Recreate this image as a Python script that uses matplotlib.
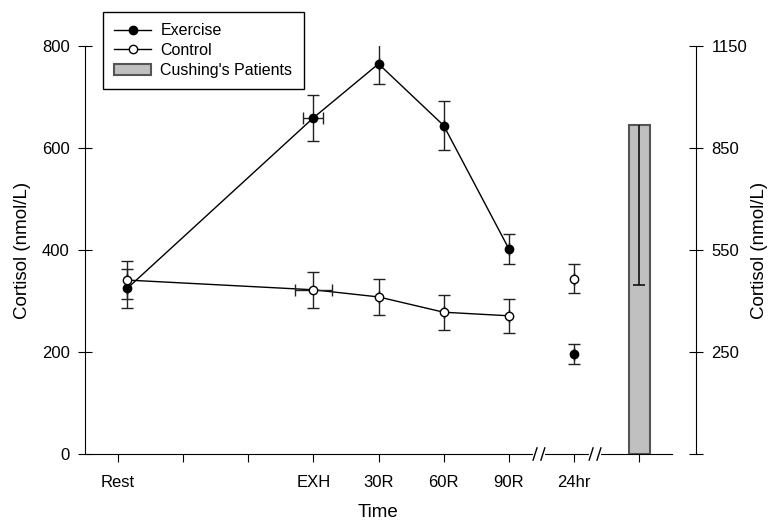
import matplotlib
matplotlib.use("Agg")
import matplotlib.pyplot as plt
from matplotlib.patches import Patch
from matplotlib.lines import Line2D

plt.rcParams['font.family'] = ['Liberation Sans', 'DejaVu Sans']

# time points (Rest is drawn a little right of its tick, as in the original)
time_labels = ["Rest", "EXH", "30R", "60R", "90R", "24hr"]
time_x = [0.15, 3, 4, 5, 6, 7]

exercise = [325, 659, 765, 644, 402, 196]
exercise_err = [38, 45, 39, 48, 30, 20]
exercise_xerr = [0, 0.15, 0, 0, 0, 0]

control = [341, 322, 308, 278, 271, 344]
control_err = [38, 35, 36, 34, 33, 28]
control_xerr = [0, 0.28, 0, 0, 0, 0]

# Cushing's patients, on the right-hand axis
cushing_x = 8
cushing_mean = 918
cushing_err_low = 471

fig = plt.figure(figsize=(7.71, 5.2), dpi=100)
ax = fig.add_axes([85 / 771, 1 - 454 / 520, 587 / 771, 408 / 520])
ax2 = ax.twinx()

# lines through the first five points only
ax.plot(time_x[:5], exercise[:5], color='black', lw=1, zorder=2)
ax.plot(time_x[:5], control[:5], color='black', lw=1, zorder=2)

ax.errorbar(time_x, exercise, yerr=exercise_err, xerr=exercise_xerr, fmt='none',
            ecolor='#222222', elinewidth=1, capsize=4.3, capthick=1, zorder=3)
ax.errorbar(time_x, control, yerr=control_err, xerr=control_xerr, fmt='none',
            ecolor='#222222', elinewidth=1, capsize=4.3, capthick=1, zorder=3)
ax.plot(time_x, exercise, 'o', color='black', ms=6, zorder=4)
ax.plot(time_x, control, 'o', mfc='white', mec='black', mew=1, ms=6, zorder=4)

ax.set_xlim(-0.5, 8.5)
ax.set_ylim(0, 800)
ax.set_yticks([0, 200, 400, 600, 800])
ax.set_xticks(range(9))
tick_names = [''] * 9
for lbl, xv in zip(time_labels, [0, 3, 4, 5, 6, 7]):
    tick_names[xv] = lbl
ax.set_xticklabels(tick_names)
ax.tick_params(axis='y', direction='inout', length=10, labelsize=12, pad=6)
ax.tick_params(axis='x', direction='out', length=6, labelsize=12, pad=9)
ax.spines['top'].set_visible(False)
ax.spines['right'].set_visible(False)
ax.set_ylabel("Cortisol (nmol/L)", fontsize=13.5, labelpad=8)
ax.set_xlabel("Time", fontsize=13.5, labelpad=10)

# right axis
ax2.set_ylim(-50, 1150)
ax2.bar([cushing_x], [cushing_mean - (-50)], bottom=-50, width=0.33,
        color='#c0c0c0', edgecolor='#555555', lw=1.5, zorder=2)
eb = ax2.errorbar([cushing_x], [cushing_mean], yerr=[[cushing_err_low], [0]], fmt='none',
                  ecolor='#111111', elinewidth=1.2, capsize=4.3, capthick=1.2, zorder=3)
eb[1][1].set_visible(False)  # no cap on the top
ax2.set_yticks([-50, 250, 550, 850, 1150])
ax2.set_yticklabels(['', '250', '550', '850', '1150'])
ax2.tick_params(axis='y', direction='inout', length=10, labelsize=12, pad=6)
for s in ['top', 'left', 'bottom']:
    ax2.spines[s].set_visible(False)
ax2.spines['right'].set_position(('outward', 17.3))
ax2.set_ylabel("Cortisol (nmol/L)", fontsize=13.5, labelpad=3)

# axis breaks on the time axis
trans = ax.get_xaxis_transform()
for bx in [6.46, 7.32]:
    ax.plot([bx - 0.06, bx + 0.06], [0, 0], color='white', lw=3, transform=trans,
            clip_on=False, zorder=5)
    for off in [-0.06, 0.06]:
        ax.plot([bx + off - 0.03, bx + off + 0.03], [-0.015, 0.015], color='black', lw=1,
                transform=trans, clip_on=False, zorder=6)

handles = [
    Line2D([], [], color='black', lw=1, marker='o', ms=6),
    Line2D([], [], color='black', lw=1, marker='o', ms=6, mfc='white', mec='black'),
    Patch(facecolor='#c0c0c0', edgecolor='#555555', lw=1.5),
]
leg = fig.legend(handles, ["Exercise", "Control", "Cushing's Patients"],
                 loc='upper left', bbox_to_anchor=(103 / 771, 1 - 12 / 520),
                 borderaxespad=0, fontsize=11.5, fancybox=False, framealpha=1,
                 edgecolor='black', handlelength=2.3, handletextpad=0.6,
                 labelspacing=0.3, borderpad=0.7)
leg.get_frame().set_linewidth(1)

fig.savefig("out.png", dpi=100)
